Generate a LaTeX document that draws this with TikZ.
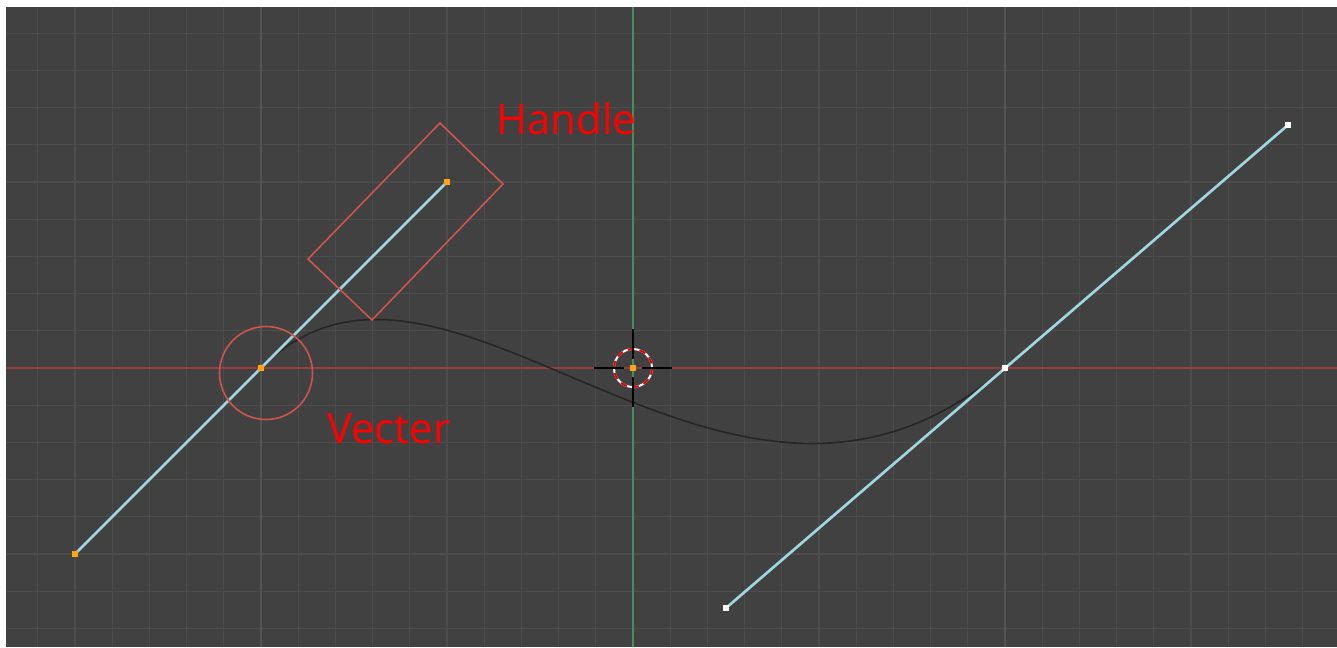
\documentclass[tikz,border=0pt]{standalone}
\usepackage{fontspec}
\setmainfont{Open Sans}
\definecolor{viewbg}{RGB}{65,65,65}
\definecolor{gridcol}{RGB}{76,76,76}
\definecolor{gridmajor}{RGB}{84,84,84}
\definecolor{axisx}{RGB}{150,62,62}
\definecolor{axisy}{RGB}{76,140,88}
\definecolor{handlecol}{RGB}{160,214,224}
\definecolor{markcol}{RGB}{206,84,78}
\definecolor{selcol}{RGB}{255,166,20}

\begin{document}
\begin{tikzpicture}[x=0.75pt,y=-0.75pt,
	gridline/.style={draw=gridcol,line width=1pt},
	handleline/.style={draw=handlecol,line width=2pt},
	markline/.style={draw=markcol,line width=1.2pt},
	selpt/.style={rectangle,fill=selcol,minimum size=4.5pt,inner sep=0pt},
	unselpt/.style={rectangle,fill=white,minimum size=4.5pt,inner sep=0pt},
	label/.style={text=red,font=\fontsize{31.5}{36}\selectfont,inner sep=0pt}]

	\useasboundingbox (0,0) rectangle (1337,647);
	\fill[white] (0,0) rectangle (1337,647);
	\fill[viewbg] (6,7) rectangle (1337,647);

	\begin{scope}
		\clip (6,7) rectangle (1337,647);
		\foreach \k in {-16,...,18}
			\draw[gridline] (633+37.2*\k,7) -- (633+37.2*\k,647);
		\foreach \k in {-9,...,7}
			\draw[gridline] (6,368+37.2*\k) -- (1337,368+37.2*\k);
		\draw[draw=gridmajor,line width=1.1pt] (261,7) -- (261,647);
		\draw[draw=gridmajor,line width=1.1pt] (1005,7) -- (1005,647);
		\draw[draw=axisx,line width=1.2pt] (6,368) -- (1337,368);
		\draw[draw=axisy,line width=1.3pt] (633,7) -- (633,647);
	\end{scope}

	% control points
	\coordinate (v1) at (261,368);
	\coordinate (h1a) at (75,554);
	\coordinate (h1b) at (447,182);
	\coordinate (v2) at (1005,368);
	\coordinate (h2a) at (726,608);
	\coordinate (h2b) at (1288,125);

	\draw[draw=black!85,line width=1.2pt] (v1) .. controls (h1b) and (h2a) .. (v2);

	\draw[handleline] (h1a) -- (h1b);
	\draw[handleline] (h2a) -- (h2b);

	\node[selpt] (p1) at (h1a) {};
	\node[selpt] (p2) at (v1) {};
	\node[selpt] (p3) at (h1b) {};
	\node[unselpt] (p4) at (h2a) {};
	\node[unselpt] (p5) at (v2) {};
	\node[unselpt] (p6) at (h2b) {};

	% markers
	\draw[markline] (266,373) circle[radius=46.5];
	\draw[markline] (440,123) -- (503,184) -- (372,320) -- (308,259) -- cycle;

	\node[label,anchor=base west] (handle) at (496,134) {Handle};
	\node[label,anchor=base west] (vecter) at (327,443) {Vecter};

	% 3d cursor
	\coordinate (cur) at (633,368);
	\draw[white,line width=1.5pt] (cur) circle[radius=19];
	\draw[red!90!black,line width=1.5pt,dash pattern=on 5pt off 4pt] (cur) circle[radius=19];
	\draw[black,line width=1.2pt] (594,368) -- (624,368) (642,368) -- (672,368)
		(633,329) -- (633,359) (633,377) -- (633,407);
	\node[selpt] (curpt) at (cur) {};
\end{tikzpicture}
\end{document}
